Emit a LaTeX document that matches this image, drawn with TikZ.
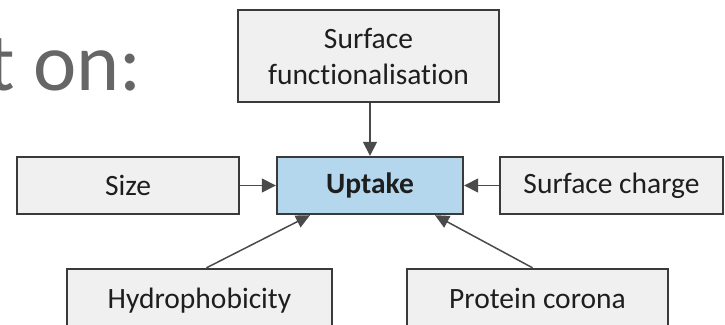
\documentclass[tikz,border=0pt]{standalone}
\usepackage{fontspec}
\setmainfont[Ligatures={NoCommon,NoRare}]{Carlito}
\usetikzlibrary{arrows.meta}
\definecolor{boxfill}{HTML}{F0F0F0}
\definecolor{boxdraw}{HTML}{3A3A3A}
\definecolor{upfill}{HTML}{B5D7EE}
\definecolor{txt}{HTML}{1E1E1E}
\definecolor{headtxt}{HTML}{666666}
\definecolor{conn}{HTML}{4A4A4A}
\tikzset{
  factor/.style={draw=boxdraw, fill=boxfill, line width=2.4pt, inner sep=0pt,
    text=txt, font=\fontsize{29.5}{36}\selectfont, align=center},
  central/.style={factor, fill=upfill, font=\fontsize{29.5}{36}\selectfont\bfseries},
  conn/.style={draw=conn, line width=1.5pt, -{Triangle[length=14pt,width=14pt]}},
  conn2/.style={draw=conn, line width=1.5pt, -{Triangle[length=14pt,width=13pt]}}
}
\begin{document}
\begin{tikzpicture}[x=1pt,y=-1pt]
\useasboundingbox (0,0) rectangle (725,324);
\clip (0,0) rectangle (725,324);
\node[anchor=base east, inner sep=0pt, text=headtxt, font=\fontsize{82}{90}\selectfont] (head) at (142,90) {t on:};
\node[factor, minimum width=261pt, minimum height=92pt] (func) at (368.5,56) {Surface\\functionalisation};
\node[central, minimum width=186pt, minimum height=57pt] (up) at (370,185.5) {Uptake};
\node[factor, minimum width=222pt, minimum height=57pt] (size) at (128,185.5) {Size};
\node[factor, minimum width=223pt, minimum height=57pt] (charge) at (611.5,185.5) {Surface charge};
\node[factor, minimum width=265pt, minimum height=70pt] (hyd) at (199.5,304) {};
\node[factor, minimum width=261pt, minimum height=70pt] (prot) at (537.5,304) {};
\node[text=txt, font=\fontsize{29.5}{36}\selectfont, inner sep=0pt, anchor=base] (hydt) at (199.5,308) {Hydrophobicity};
\node[text=txt, font=\fontsize{29.5}{36}\selectfont, inner sep=0pt, anchor=base] (prott) at (537.5,308) {Protein corona};
\draw[conn] (func.south -| up.north) -- (up.north);
\draw[conn] (size.east) -- (up.west);
\draw[conn] (charge.west) -- (up.east);
\draw[conn2] ([xshift=7pt]hyd.north) -- ([xshift=-60pt]up.south);
\draw[conn2] ([xshift=-5pt]prot.north) -- ([xshift=65pt]up.south);
\end{tikzpicture}
\end{document}
